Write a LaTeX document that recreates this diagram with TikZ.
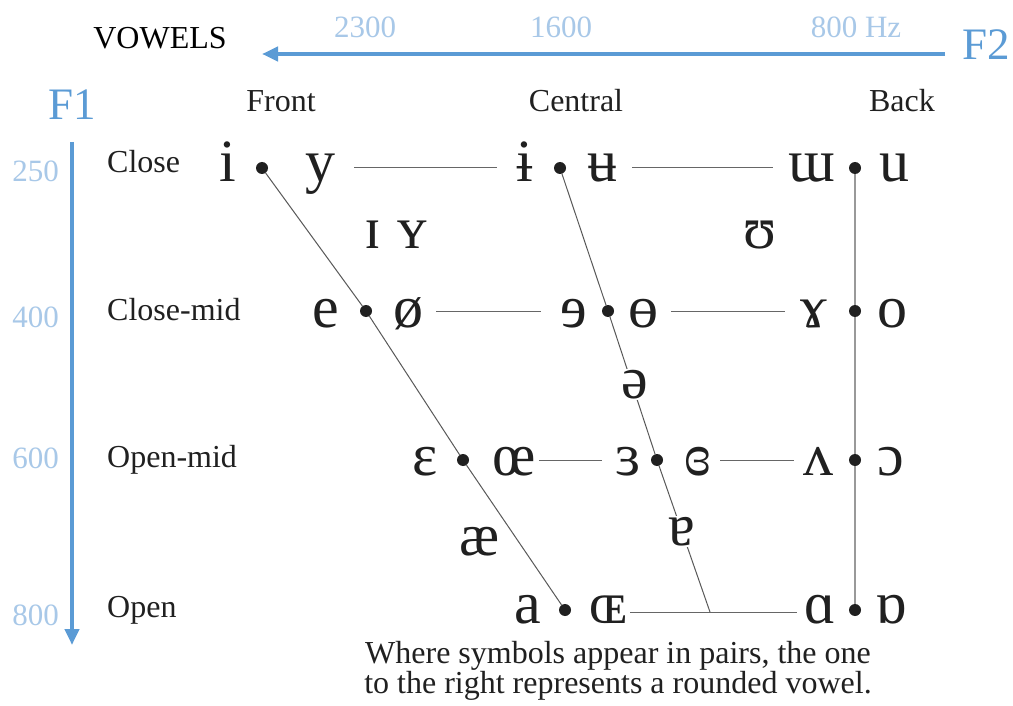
\documentclass[tikz,border=0pt]{standalone}
\usepackage{fontspec}
\setmainfont{Liberation Serif}
\usetikzlibrary{positioning,arrows.meta}
\definecolor{axisblue}{HTML}{5B9BD5}
\definecolor{freqblue}{HTML}{A8C8E8}
\definecolor{ink}{HTML}{202020}
\tikzset{
  vowel/.style={font=\fontsize{60}{64}\selectfont, text=ink, inner sep=1pt, anchor=base},
  dot/.style={circle, fill=ink, minimum size=12pt, inner sep=0pt},
  hline/.style={draw=black!60, line width=1pt},
  slant/.style={draw=black!65, line width=1pt},
  rowlabel/.style={font=\fontsize{32}{36}\selectfont, text=ink, anchor=base west, inner sep=0pt},
  colhead/.style={font=\fontsize{32}{36}\selectfont, text=ink, anchor=base, inner sep=0pt},
  freq/.style={font=\fontsize{31}{34}\selectfont, text=freqblue, inner sep=0pt},
  formant/.style={font=\fontsize{45}{48}\selectfont, text=axisblue, inner sep=0pt, anchor=base},
  axis/.style={draw=axisblue, line width=4pt, -{Triangle[length=16pt,width=14pt]}}
}
\begin{document}
\begin{tikzpicture}[x=1pt,y=-1pt]
\useasboundingbox[fill=white] (0,0) rectangle (1013,706);

% axes
\coordinate (f2from) at (945,54);
\coordinate (f2to) at (262,54);
\coordinate (f1from) at (72,142);
\coordinate (f1to) at (72,645);
\draw[axis] (f2from) -- (f2to);
\draw[axis] (f1from) -- (f1to);
\node[formant] (ftwo) at (986,60) {F2};
\node[formant] (fone) at (72,120) {F1};
\node[font=\fontsize{32}{36}\selectfont, anchor=base, inner sep=0pt] (title) at (160,49) {VOWELS};
\node[freq, anchor=base] (hz2300) at (365,38) {2300};
\node[freq, anchor=base] (hz1600) at (561,38) {1600};
\node[freq, anchor=base] (hz800) at (856,38) {800 Hz};
\node[freq, anchor=base east] (hz250) at (59,182) {250};
\node[freq, anchor=base east] (hz400) at (59,327) {400};
\node[freq, anchor=base east] (hz600) at (59,468) {600};
\node[freq, anchor=base east] (hz800b) at (59,625) {800};

% headings
\node[colhead] (front) at (281,112) {Front};
\node[colhead] (central) at (576,112) {Central};
\node[colhead] (back) at (902,112) {Back};
\node[rowlabel] (close) at (107,173) {Close};
\node[rowlabel] (closemid) at (107,320) {Close-mid};
\node[rowlabel] (openmid) at (107,467) {Open-mid};
\node[rowlabel] (open) at (107,617) {Open};

% dots
\node[dot] (d-cf) at (262,168) {};
\node[dot] (d-cc) at (560,168) {};
\node[dot] (d-cb) at (855,168) {};
\node[dot] (d-cmf) at (366,311) {};
\node[dot] (d-cmc) at (608,311) {};
\node[dot] (d-cmb) at (855,311) {};
\node[dot] (d-omf) at (463,460) {};
\node[dot] (d-omc) at (657,460) {};
\node[dot] (d-omb) at (855,460) {};
\node[dot] (d-of) at (565,610) {};
\node[dot] (d-ob) at (855,610) {};
\coordinate (d-oc) at (710,612);

% trapezium
\draw[slant] (d-cf) -- (d-cmf) -- (d-omf) -- (d-of);
\draw[slant] (d-cc) -- (d-cmc) -- (d-omc) -- (d-oc);
\draw[draw=black!40, line width=1.5pt] (d-cb) -- (d-cmb) -- (d-omb) -- (d-ob);

% close
\node[vowel] (vi) at (228,182) {i};
\node[vowel] (vy) at (320,182) {y};
\node[vowel] (vibar) at (525,182) {ɨ};
\node[vowel] (vubar) at (602,182) {ʉ};
\node[vowel] (vturnm) at (812,182) {ɯ};
\node[vowel] (vu) at (894,182) {u};
\node[vowel] (vsmi) at (373,248) {ɪ};
\node[vowel] (vsmy) at (412,248) {ʏ};
\node[vowel] (vupsilon) at (760,248) {ʊ};
% close-mid
\node[vowel] (ve) at (326,327) {e};
\node[vowel] (voslash) at (408,327) {ø};
\node[vowel] (vreve) at (574,327) {ɘ};
\node[vowel] (vbaro) at (643,327) {ɵ};
\node[vowel] (vgamma) at (814,327) {ɤ};
\node[vowel] (vo) at (892,327) {o};
\node[vowel, fill=white] (vschwa) at (635,398) {ə};
% open-mid
\node[vowel] (veps) at (425,475) {ɛ};
\node[vowel] (voe) at (514,475) {œ};
\node[vowel] (vreveps) at (628,475) {ɜ};
\node[vowel] (vcloseps) at (698,475) {ɞ};
\node[vowel] (vturnv) at (818,475) {ʌ};
\node[vowel] (vopeno) at (891,475) {ɔ};
\node[vowel] (vae) at (480,555) {æ};
\node[vowel, fill=white] (vturna) at (682,545) {ɐ};
% open
\node[vowel] (va) at (528,623) {a};
\node[vowel] (vsmoe) at (608,623) {ɶ};
\node[vowel] (valpha) at (820,623) {ɑ};
\node[vowel] (vturnalpha) at (891,623) {ɒ};

% rows
\draw[hline] ([xshift=18pt]vy.east |- d-cf) -- ([xshift=-18pt]vibar.west |- d-cf);
\draw[hline] ([xshift=14pt]vubar.east |- d-cc) -- ([xshift=-14pt]vturnm.west |- d-cc);
\draw[hline] ([xshift=12pt]voslash.east |- d-cmf) -- ([xshift=-18pt]vreve.west |- d-cmf);
\draw[hline] ([xshift=12pt]vbaro.east |- d-cmc) -- ([xshift=-14pt]vgamma.west |- d-cmc);
\draw[hline] ([xshift=2pt]voe.east |- d-omf) -- ([xshift=-12pt]vreveps.west |- d-omf);
\draw[hline] ([xshift=8pt]vcloseps.east |- d-omc) -- ([xshift=-8pt]vturnv.west |- d-omc);
\draw[hline] ([xshift=2pt]vsmoe.east |- d-oc) -- ([xshift=-6pt]valpha.west |- d-oc);

% note
\node[font=\fontsize{32}{30}\selectfont, text=ink, align=center, anchor=north, inner sep=0pt] (note) at (618,641)
  {Where symbols appear in pairs, the one\\to the right represents a rounded vowel.};
\end{tikzpicture}
\end{document}
